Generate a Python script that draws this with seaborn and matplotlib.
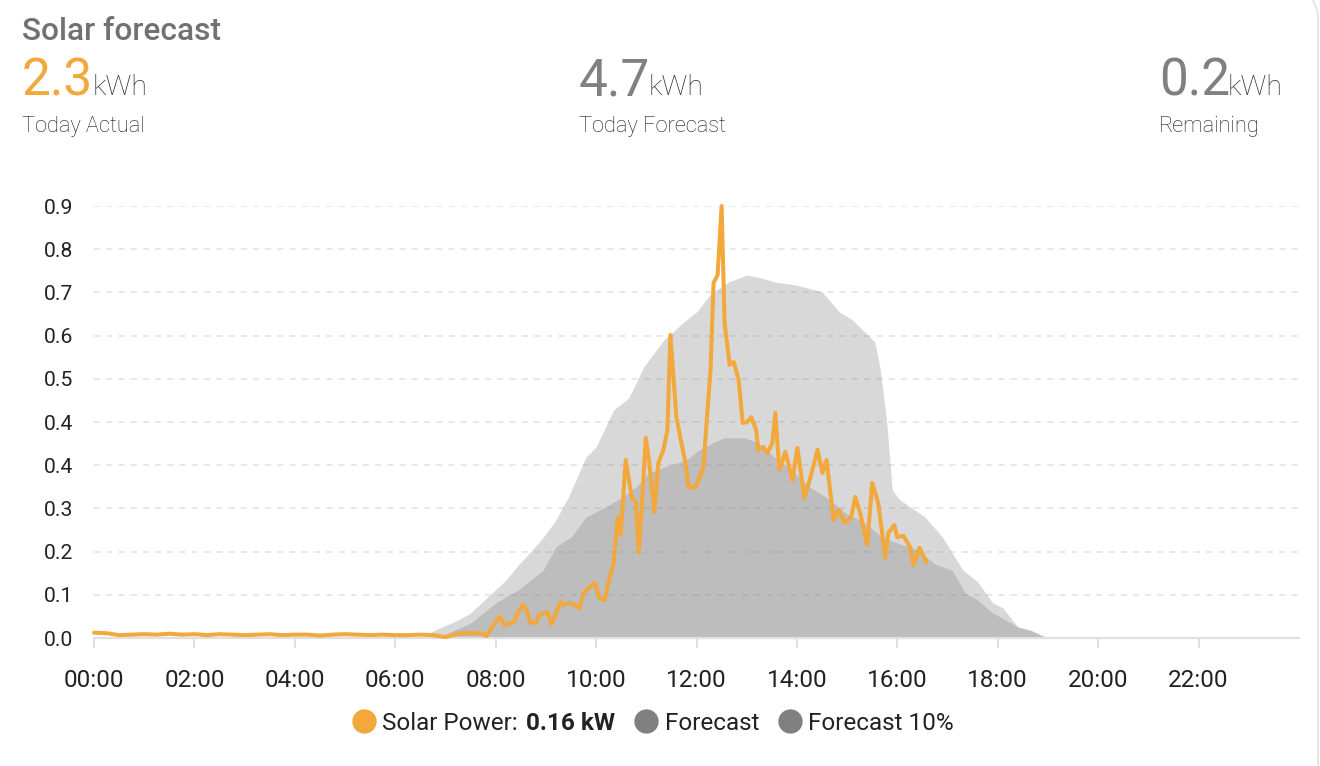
import numpy as np
import pandas as pd
import matplotlib
matplotlib.use("Agg")
import matplotlib.pyplot as plt
import matplotlib.patches as mpatches
from matplotlib.lines import Line2D
from matplotlib.transforms import IdentityTransform
import seaborn as sns

# --- data (hours of day, kW) ---
forecast_hours = [6.5, 6.8, 7.2, 7.5, 7.95, 8.2, 8.45, 8.7, 8.95, 9.2,
                  9.45, 9.8, 10.0, 10.35, 10.65, 10.95, 11.35, 11.8, 12.0, 12.3,
                  12.65, 13.0, 13.3, 13.55, 14.0, 14.5, 14.85, 15.1, 15.55, 15.65,
                  15.78, 15.9, 16.05, 16.55, 16.9, 17.3, 17.6, 17.9, 18.1, 18.4,
                  18.65, 19.0]
forecast = [0, 0.017, 0.035, 0.052, 0.096, 0.12, 0.152, 0.18, 0.21, 0.246,
            0.294, 0.377, 0.398, 0.475, 0.50, 0.565, 0.621, 0.663, 0.679, 0.719,
            0.742, 0.756, 0.75, 0.742, 0.735, 0.721, 0.679, 0.663, 0.617, 0.565,
            0.46, 0.308, 0.288, 0.252, 0.21, 0.142, 0.117, 0.073, 0.063, 0.023,
            0.017, 0]

forecast10_hours = [6.8, 7.0, 7.5, 8.0, 8.45, 8.95, 9.2, 9.5, 9.8, 10.15,
                    10.5, 10.8, 11.05, 11.35, 11.8, 12.05, 12.35, 12.55, 12.95, 13.2,
                    13.55, 13.9, 14.25, 14.6, 15.0, 15.3, 15.7, 16.05, 16.4, 16.75,
                    17.1, 17.35, 17.6, 17.9, 18.15, 18.4, 18.65, 19.0]
forecast10 = [0, 0.008, 0.031, 0.073, 0.10, 0.142, 0.19, 0.21, 0.252, 0.271,
              0.292, 0.315, 0.344, 0.356, 0.371, 0.392, 0.408, 0.417, 0.417, 0.408,
              0.377, 0.35, 0.315, 0.292, 0.258, 0.244, 0.21, 0.196, 0.183, 0.154,
              0.14, 0.094, 0.079, 0.052, 0.038, 0.023, 0.015, 0]

solar_hours = [0.0, 0.25, 0.5, 0.75, 1.0, 1.25, 1.5, 1.75, 2.0, 2.25,
               2.5, 2.75, 3.0, 3.25, 3.5, 3.75, 4.0, 4.25, 4.5, 4.75,
               5.0, 5.25, 5.5, 5.75, 6.0, 6.25, 6.5, 6.75, 7.0, 7.25,
               7.5, 7.72, 7.82, 7.98, 8.08, 8.18, 8.36, 8.44, 8.54, 8.62,
               8.68, 8.80, 8.86, 9.03, 9.11, 9.21, 9.29, 9.35, 9.49, 9.67,
               9.75, 9.97, 10.07, 10.17, 10.25, 10.35, 10.43, 10.49, 10.59, 10.71,
               10.79, 10.85, 10.93, 10.99, 11.06, 11.16, 11.24, 11.34, 11.42, 11.48,
               11.60, 11.70, 11.78, 11.84, 11.98, 12.14, 12.20, 12.28, 12.34, 12.42,
               12.50, 12.56, 12.66, 12.74, 12.84, 12.92, 13.01, 13.09, 13.19, 13.23,
               13.33, 13.41, 13.51, 13.57, 13.65, 13.77, 13.91, 14.01, 14.15, 14.27,
               14.41, 14.51, 14.59, 14.73, 14.83, 14.95, 15.08, 15.16, 15.26, 15.40,
               15.50, 15.62, 15.76, 15.82, 15.94, 16.00, 16.12, 16.26, 16.32, 16.44,
               16.58]
solar = [0.011, 0.010, 0.006, 0.007, 0.008, 0.007, 0.009, 0.007, 0.008, 0.006,
         0.008, 0.007, 0.006, 0.007, 0.008, 0.006, 0.007, 0.007, 0.005, 0.007,
         0.008, 0.007, 0.006, 0.007, 0.006, 0.006, 0.007, 0.006, 0.002, 0.009,
         0.010, 0.010, 0.004, 0.031, 0.044, 0.027, 0.033, 0.052, 0.069, 0.058,
         0.033, 0.031, 0.048, 0.054, 0.029, 0.054, 0.075, 0.069, 0.073, 0.062,
         0.094, 0.115, 0.083, 0.079, 0.117, 0.156, 0.252, 0.215, 0.371, 0.294,
         0.283, 0.179, 0.308, 0.417, 0.365, 0.263, 0.365, 0.392, 0.433, 0.631,
         0.460, 0.406, 0.365, 0.315, 0.313, 0.356, 0.448, 0.558, 0.740, 0.756,
         0.900, 0.656, 0.569, 0.575, 0.538, 0.448, 0.450, 0.460, 0.433, 0.392,
         0.398, 0.385, 0.406, 0.469, 0.350, 0.388, 0.329, 0.396, 0.292, 0.335,
         0.392, 0.344, 0.371, 0.246, 0.267, 0.240, 0.252, 0.294, 0.260, 0.194,
         0.323, 0.281, 0.167, 0.219, 0.235, 0.210, 0.213, 0.188, 0.152, 0.188,
         0.158]

xtick_hours = [0, 2, 4, 6, 8, 10, 12, 14, 16, 18, 20, 22]
xtick_labels = ["00:00", "02:00", "04:00", "06:00", "08:00", "10:00",
                "12:00", "14:00", "16:00", "18:00", "20:00", "22:00"]
ytick_labels = ["0.0", "0.1", "0.2", "0.3", "0.4", "0.4",
                "0.5", "0.6", "0.7", "0.8", "0.9"]

stat_values = ["2.3", "4.7", "0.2"]
stat_names = ["Today Actual", "Today Forecast", "Remaining"]

ORANGE = "#f3a83b"
GREY = "#808080"

sns.set_theme(style="white")
plt.rcParams["font.family"] = ["Roboto", "DejaVu Sans"]

W, H = 1320, 766
fig = plt.figure(figsize=(W / 100, H / 100), dpi=100)
fig.patch.set_facecolor("white")

def fx(px):
    return px / W

def fy(py):
    return 1 - py / H

ax = fig.add_axes([fx(94), fy(638), fx(1299) - fx(94), fy(206) - fy(638)])

solar_df = pd.DataFrame({"hour": solar_hours, "kw": solar})

ax.fill_between(forecast_hours, forecast, 0, color=GREY, alpha=0.3, lw=0)
ax.fill_between(forecast10_hours, forecast10, 0, color=GREY, alpha=0.3, lw=0)
sns.lineplot(data=solar_df, x="hour", y="kw", ax=ax, color=ORANGE, lw=2.9,
             clip_on=False, zorder=5, solid_joinstyle="round")

ax.set_xlim(0, 24)
ax.set_ylim(0, 0.9)
ax.set_xlabel("")
ax.set_ylabel("")

ax.set_yticks(np.linspace(0, 0.9, 11))
ax.set_yticklabels(ytick_labels)
ax.set_xticks(xtick_hours)
ax.set_xticklabels(xtick_labels)

ax.yaxis.grid(True, color="#e2e2e2", lw=1.1, ls=(0, (4, 4)))
ax.xaxis.grid(False)
for s in ["top", "left", "right"]:
    ax.spines[s].set_visible(False)
ax.spines["bottom"].set_color("#e0e0e0")
ax.spines["bottom"].set_linewidth(1.6)

ax.tick_params(axis="y", length=0, pad=15, labelsize=15.2, labelcolor="#222222")
ax.tick_params(axis="x", bottom=True, length=7, width=1.2, color="#dcdcdc",
               pad=15.5, labelsize=17.5, labelcolor="#222222")

# header
fig.text(fx(22), fy(40), "Solar forecast", fontsize=22.8, color="#717171",
         fontweight="medium", va="baseline")
stat_x = [22, 579, 1159]
unit_x = [93, 649, 1228]
stat_colors = [ORANGE, GREY, GREY]
for i in range(3):
    fig.text(fx(stat_x[i]), fy(95), stat_values[i], fontsize=37,
             color=stat_colors[i], va="baseline")
    fig.text(fx(unit_x[i]), fy(95), "kWh", fontsize=20.5, color="#333333",
             fontweight="light", va="baseline")
    fig.text(fx(stat_x[i]), fy(132), stat_names[i], fontsize=15.7,
             color="#1a1a1a", fontweight="light", va="baseline")

# legend
ly = fy(721)
for mx, col in [(364, ORANGE), (646, GREY), (790, GREY)]:
    fig.add_artist(Line2D([fx(mx)], [ly], marker="o", markersize=16.5,
                          color=col, lw=0, transform=fig.transFigure))
fig.text(fx(382), ly, "Solar Power:", fontsize=17.5, color="#222222", va="center_baseline")
fig.text(fx(526), ly, "0.16 kW", fontsize=17.5, color="#222222",
         fontweight="bold", va="center_baseline")
fig.text(fx(665), ly, "Forecast", fontsize=17.5, color="#222222", va="center_baseline")
fig.text(fx(808), ly, "Forecast 10%", fontsize=17.5, color="#222222", va="center_baseline")

# card edge: right border and the top-right rounded corner (pixel coords)
fig.add_artist(Line2D([1318, 1318], [-5, H - 20], color="#e2e2e2", lw=1.2,
                      transform=IdentityTransform()))
fig.add_artist(mpatches.Arc((1278, H - 20), 80, 80, theta1=0, theta2=90,
                            color="#e2e2e2", lw=1.2, transform=IdentityTransform()))

fig.savefig("out.png", dpi=100)
